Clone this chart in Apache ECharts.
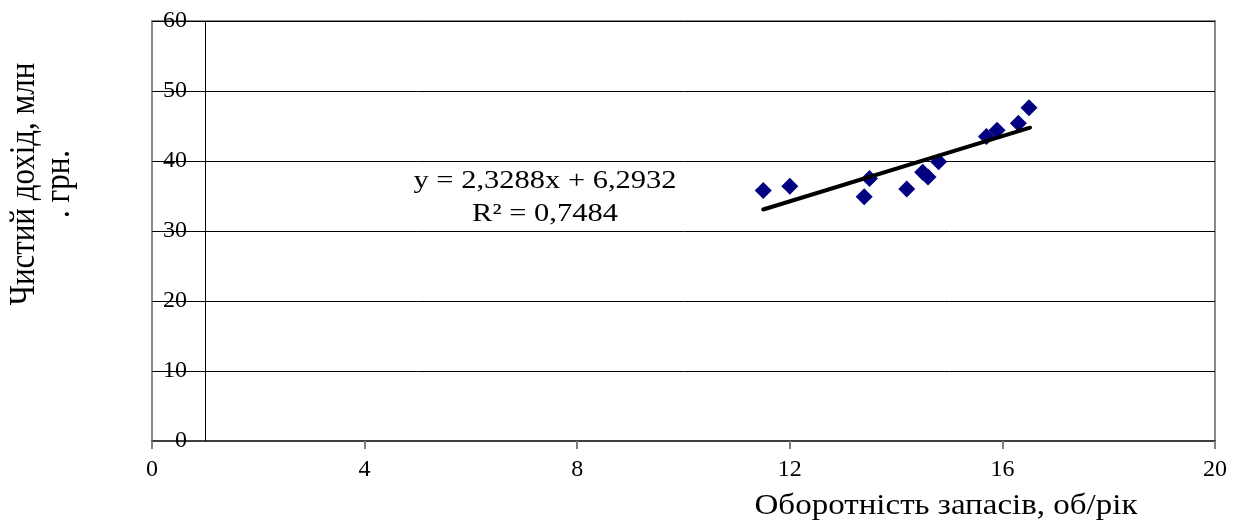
<!DOCTYPE html>
<html>
<head>
<meta charset="utf-8">
<script src="https://cdn.jsdelivr.net/npm/echarts@6/dist/echarts.min.js"></script>
<style>html,body{margin:0;padding:0;background:#fff}#c{width:1242px;height:523px}</style>
</head>
<body>
<div id="c"></div>
<script>
// Data
const turnover = [11.5, 12.0, 13.4, 13.5, 14.2, 14.5, 14.6, 14.8, 15.7, 15.9, 16.3, 16.5];
const revenue  = [35.8, 36.4, 34.9, 37.5, 36.0, 38.4, 37.7, 39.9, 43.5, 44.4, 45.4, 47.6];
const trendX = [11.5, 16.52];
const trendY = [33.07, 44.76];
const xTicks = [0, 4, 8, 12, 16, 20];
const yTicks = [0, 10, 20, 30, 40, 50, 60];
const equationText = 'y = 2,3288x + 6,2932\nR² = 0,7484';
const xTitle = 'Оборотність запасів, об/рік';
const yTitle = 'Чистий дохід, млн\n. грн.';
const yAxisCrossAt = 1;

const serif = '"Liberation Serif", "Times New Roman", serif';
const chart = echarts.init(document.getElementById('c'));
const points = turnover.map((x, i) => [x, revenue[i]]);
const trend = trendX.map((x, i) => [x, trendY[i]]);

chart.setOption({
  animation: false,
  grid: { left: 152, right: 27, top: 21, bottom: 82, show: true, borderColor: '#8a8a8a', borderWidth: 2, backgroundColor: 'transparent' },
  xAxis: {
    type: 'value', min: xTicks[0], max: xTicks[xTicks.length - 1], interval: 4,
    axisLine: { show: true, onZero: false, lineStyle: { color: '#404040', width: 2 } },
    axisTick: { show: true, length: 8, lineStyle: { color: '#808080', width: 2 } },
    axisLabel: { fontFamily: serif, fontSize: 24, color: '#000', margin: 17 },
    splitLine: { show: false }
  },
  yAxis: {
    type: 'value', min: yTicks[0], max: yTicks[yTicks.length - 1], interval: 10,
    axisLine: { show: false },
    axisTick: { show: false },
    axisLabel: { inside: true, align: 'right', margin: 35, fontFamily: serif, fontSize: 24, color: '#000' },
    splitLine: { show: true, lineStyle: { color: '#000', width: 1 } }
  },
  series: [
    {
      type: 'scatter', data: points, symbol: 'diamond', symbolSize: 17,
      itemStyle: { color: '#000080', opacity: 1 }, z: 3,
      markLine: {
        silent: true, symbol: 'none', label: { show: false },
        lineStyle: { color: '#000', width: 1, type: 'solid' },
        data: [{ xAxis: yAxisCrossAt }]
      }
    },
    {
      type: 'line', data: trend, showSymbol: false, symbol: 'none',
      lineStyle: { color: '#000', width: 4, cap: 'round' }, z: 4
    }
  ],
  graphic: [
    { type: 'text', x: 545, y: 198, scaleX: 1.22, style: { text: equationText, font: '25px ' + serif, fill: '#000', align: 'center', verticalAlign: 'middle', lineHeight: 33 } },
    { type: 'text', x: 946, y: 506, scaleX: 1.1, style: { text: xTitle, font: '30px ' + serif, fill: '#000', align: 'center', verticalAlign: 'middle' } },
    { type: 'text', x: 42, y: 184, rotation: Math.PI / 2, scaleY: 1.15, style: { text: yTitle, font: '31px ' + serif, fill: '#000', align: 'center', verticalAlign: 'middle', lineHeight: 31 } }
  ]
});
</script>
</body>
</html>
